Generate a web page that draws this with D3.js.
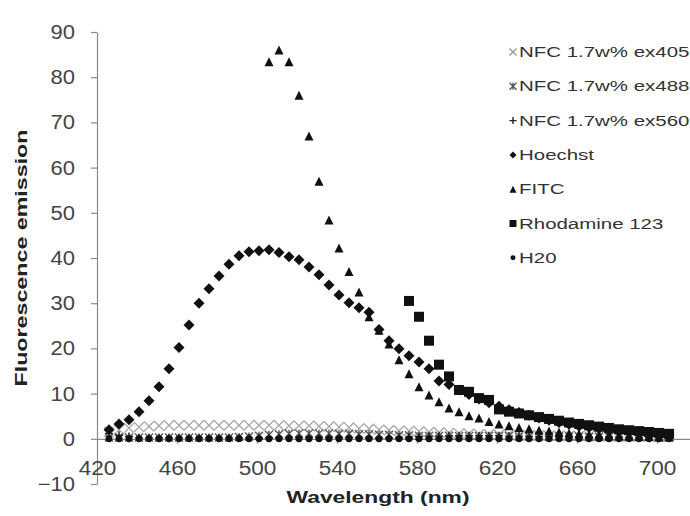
<!DOCTYPE html>
<html>
<head>
<meta charset="utf-8">
<script src="https://cdn.jsdelivr.net/npm/d3@7"></script>
<style>
  body { margin: 0; background: #fff; }
  svg { display: block; font-family: Arial, "Liberation Sans", sans-serif; }
</style>
</head>
<body>
<svg id="chart" width="690" height="516"></svg>
<script>
// Wavelengths (nm)
const wavelengths = [426, 431, 436, 441, 446, 451, 456, 461, 466, 471, 476, 481, 486, 491, 496, 501,
  506, 511, 516, 521, 526, 531, 536, 541, 546, 551, 556, 561, 566, 571, 576, 581, 586, 591, 596, 601,
  606, 611, 616, 621, 626, 631, 636, 641, 646, 651, 656, 661, 666, 671, 676, 681, 686, 691, 696, 701, 706];

// series values (null = no point)
const nfc405 = [1.5, 2, 2.4, 2.6, 2.8, 2.9, 3, 3, 3, 3, 3, 3, 3, 3, 3, 3, 3, 3, 2.9, 2.9, 2.9, 2.8, 2.7,
  2.6, 2.5, 2.3, 2.2, 2, 1.9, 1.8, 1.7, 1.6, 1.5, 1.4, 1.3, 1.2, 1.1, 1, 1, 0.9, 0.9, 0.8, 0.8, 0.8,
  0.7, 0.7, 0.7, 0.6, 0.6, 0.6, 0.6, 0.5, 0.5, 0.5, 0.5, 0.5, 0.5];
const nfc488 = [0.3, 0.3, 0.3, 0.3, 0.3, 0.3, 0.3, 0.3, 0.3, 0.3, 0.3, 0.3, 0.3, 0.4, 0.5, 0.7, 0.9,
  1, 1.1, 1.2, 1.2, 1.2, 1.2, 1.1, 1.1, 1, 1, 0.9, 0.9, 0.8, 0.8, 0.7, 0.7, 0.7, 0.7, 0.6, 0.6, 0.6,
  0.6, 0.6, 0.6, 0.5, 0.5, 0.5, 0.5, 0.5, 0.5, 0.5, 0.4, 0.4, 0.4, 0.4, 0.4, 0.4, 0.4, 0.4, 0.4];
const nfc560 = [1.2, 0.8, 0.5, 0.2, 0.2, 0.2, 0.2, 0.2, 0.2, 0.2, 0.2, 0.2, 0.2, 0.2, 0.2, 0.2, 0.2,
  0.2, 0.2, 0.2, 0.2, 0.2, 0.2, 0.2, 0.2, 0.2, 0.2, 0.2, 0.2, 0.3, 0.4, 0.5, 0.6, 0.6, 0.7, 0.7, 0.7,
  0.7, 0.7, 0.7, 0.6, 0.6, 0.6, 0.5, 0.5, 0.5, 0.5, 0.4, 0.4, 0.4, 0.4, 0.4, 0.3, 0.3, 0.3, 0.3, 0.3];
const hoechst = [2, 3.3, 4.2, 6, 8.4, 11.5, 15.5, 20.2, 25.2, 30, 33.2, 36, 38.6, 40.5, 41.4, 41.6,
  41.8, 41.2, 40.3, 39.6, 38, 36.3, 34, 31.8, 30.1, 29, 28, 24.2, 21.7, 19.9, 18.4, 17, 15.5, 12.8,
  12, 10.8, 9.8, 8.8, 8, 7.2, 6.4, 5.8, 5.2, 4.6, 4.1, 3.6, 3.2, 2.8, 2.5, 2.2, 1.9, 1.7, 1.5, 1.3,
  1.1, 1, 0.9];
const fitc = [null, null, null, null, null, null, null, null, null, null, null, null, null, null, null,
  null, 83.4, 86, 83.4, 76, 67, 57, 48.4, 42.2, 37, 32.5, 27, 24, 21, 17.5, 14.4, 11.5, 9.7, 8.2, 6.8,
  6, 5.1, 4.6, 3.8, 3.3, 2.9, 2.5, 2.2, 1.9, 1.7, 1.5, 1.3, 1.1, 1, 0.9, 0.8, 0.7, 0.6, 0.5, 0.5,
  0.4, 0.4];
const rhodamine = [null, null, null, null, null, null, null, null, null, null, null, null, null, null,
  null, null, null, null, null, null, null, null, null, null, null, null, null, null, null, null, 30.5,
  27, 21.7, 16.4, 13.8, 10.8, 10.4, 9, 8.6, 6.5, 6, 5.6, 5.2, 4.8, 4.4, 4, 3.6, 3.3, 3, 2.7, 2.4, 2.1,
  1.9, 1.7, 1.5, 1.3, 1.1];
const h2o = [0, 0, 0, 0, 0, 0, 0, 0, 0, 0, 0, 0, 0, 0, 0, 0, 0, 0, 0, 0, 0, 0, 0, 0, 0, 0, 0, 0, 0, 0,
  0, 0, 0, 0, 0, 0, 0, 0, 0, 0, 0, 0, 0, 0, 0, 0, 0, 0, 0, 0, 0, 0, 0, 0, 0, 0, 0];

const seriesNames = ["NFC 1.7w% ex405nm", "NFC 1.7w% ex488nm", "NFC 1.7w% ex560nm",
  "Hoechst", "FITC", "Rhodamine 123", "H20"];
const seriesValues = [nfc405, nfc488, nfc560, hoechst, fitc, rhodamine, h2o];
const seriesMarkers = ["x", "star", "plus", "diamond", "triangle", "square", "circle"];

const xTicks = [420, 460, 500, 540, 580, 620, 660, 700];
const yTicks = [-10, 0, 10, 20, 30, 40, 50, 60, 70, 80, 90];

const svg = d3.select("#chart");

const x = d3.scaleLinear().domain([420, 720]).range([97, 697]);
const y = d3.scaleLinear().domain([-10, 90]).range([484, 32]);

// stretch text horizontally, the source renders it wide
function stretch(sel, k) {
  sel.each(function () {
    const w = this.getComputedTextLength();
    d3.select(this).attr("textLength", w * k).attr("lengthAdjust", "spacingAndGlyphs");
  });
}

// marker path builders, s = size in px
function markerPath(type, s) {
  const h = s / 2;
  switch (type) {
    case "diamond": return `M0,${-h}L${h},0L0,${h}L${-h},0Z`;
    case "triangle": return `M0,${-h}L${h},${h}L${-h},${h}Z`;
    case "square": return `M${-h},${-h}H${h}V${h}H${-h}Z`;
    case "x": return `M${-h},${-h}L${h},${h}M${-h},${h}L${h},${-h}`;
    case "star": return `M${-h},${-h}L${h},${h}M${-h},${h}L${h},${-h}M0,${-h}V${h}`;
    case "plus": return `M${-h},0H${h}M0,${-h}V${h}`;
  }
  return d3.symbol(d3.symbolCircle, s * s * 0.78)();
}
const markerStyle = {
  x: { fill: "none", stroke: "#aaa", width: 1.4, size: 10 },
  star: { fill: "none", stroke: "#555", width: 1.4, size: 8 },
  plus: { fill: "none", stroke: "#222", width: 1.4, size: 8 },
  diamond: { fill: "#111", stroke: "none", width: 0, size: 11 },
  triangle: { fill: "#111", stroke: "none", width: 0, size: 9 },
  square: { fill: "#111", stroke: "none", width: 0, size: 10 },
  circle: { fill: "#111", stroke: "none", width: 0, size: 7 }
};

// axes
const yAxis = svg.append("g")
  .attr("transform", `translate(${x(420)},0)`)
  .call(d3.axisLeft(y).tickValues(yTicks).tickSize(6).tickPadding(16).tickSizeOuter(0));
const xAxis = svg.append("g")
  .attr("transform", `translate(0,${y(0)})`)
  .call(d3.axisBottom(x).tickValues(xTicks).tickSize(5).tickPadding(17).tickSizeOuter(0));

[xAxis, yAxis].forEach(a => {
  a.select(".domain").attr("stroke", "#8a8a8a").attr("stroke-width", 1.2);
  a.selectAll(".tick line").attr("stroke", "#8a8a8a").attr("stroke-width", 1.2);
  a.selectAll(".tick text")
    .attr("fill", "#444")
    .style("font-size", "20px")
    .style("font-family", "Arial, 'Liberation Sans', sans-serif");
});
xAxis.select(".tick line").remove();
stretch(yAxis.selectAll(".tick text"), 1.1);
stretch(xAxis.selectAll(".tick text"), 1.13);

// series
const plot = svg.append("g");
seriesValues.forEach((vals, i) => {
  const type = seriesMarkers[i];
  const st = markerStyle[type];
  const pts = wavelengths.map((w, j) => ({ w, v: vals[j] })).filter(d => d.v !== null);
  plot.append("g")
    .selectAll("path")
    .data(pts)
    .enter()
    .append("path")
    .attr("transform", d => `translate(${x(d.w)},${y(d.v)})`)
    .attr("d", markerPath(type, st.size))
    .attr("fill", st.fill)
    .attr("stroke", st.stroke)
    .attr("stroke-width", st.width);
});

// axis titles
const xTitle = svg.append("text")
  .attr("x", 378)
  .attr("y", 503)
  .attr("text-anchor", "middle")
  .style("font-size", "17px")
  .style("font-weight", "bold")
  .attr("fill", "#222")
  .text("Wavelength  (nm)");
xTitle.attr("textLength", 183).attr("lengthAdjust", "spacingAndGlyphs");

const yTitle = svg.append("text")
  .attr("transform", "translate(27,258) rotate(-90)")
  .attr("text-anchor", "middle")
  .style("font-size", "17px")
  .style("font-weight", "bold")
  .attr("fill", "#222")
  .text("Fluorescence emission");
yTitle.attr("textLength", 257).attr("lengthAdjust", "spacingAndGlyphs");

// legend
const legend = svg.append("g").attr("transform", "translate(513,52)");
seriesNames.forEach((name, i) => {
  const type = seriesMarkers[i];
  const st = markerStyle[type];
  const row = legend.append("g").attr("transform", `translate(0,${i * 34.3})`);
  row.append("path")
    .attr("d", markerPath(type, type === "circle" ? 5 : 7))
    .attr("fill", st.fill)
    .attr("stroke", st.stroke === "#aaa" ? "#999" : st.stroke)
    .attr("stroke-width", st.width);
  const t = row.append("text")
    .attr("x", 6)
    .attr("dy", "0.36em")
    .style("font-size", "14px")
    .attr("fill", "#333")
    .text(name);
  stretch(t, 1.46);
});
</script>
</body>
</html>
